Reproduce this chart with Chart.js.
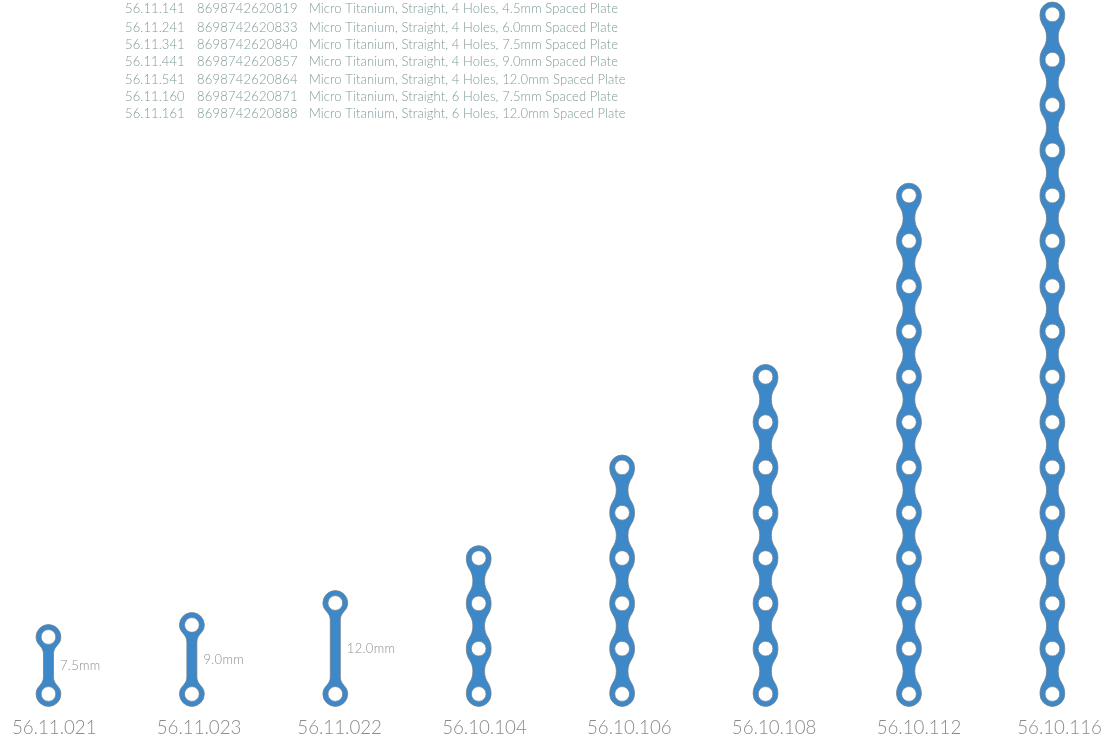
<!DOCTYPE html>
<html>
<head>
<meta charset="utf-8">
<title>Micro Titanium Straight Plates</title>
<script src="https://cdn.jsdelivr.net/npm/chart.js@4"></script>
<style>
  html, body { margin: 0; padding: 0; background: #fff; overflow: hidden; }
  canvas { display: block; }
</style>
</head>
<body>
<canvas id="plates" width="1104" height="746"></canvas>
<script>
// plate codes on the bottom axis
const plateCodes = ['56.11.021', '56.11.023', '56.11.022', '56.10.104', '56.10.106', '56.10.108', '56.10.112', '56.10.116'];

// hole centres along each plate, in mm from the bottom hole
const holes021 = [0, 7.43];
const holes023 = [0, 9.0];
const holes022 = [0, 11.86];
const holes104 = [0, 5.91, 11.81, 17.72];
const holes106 = [0, 5.91, 11.81, 17.72, 23.63, 29.54];
const holes108 = [0, 5.91, 11.81, 17.72, 23.63, 29.54, 35.44, 41.35];
const holes112 = [0, 5.91, 11.81, 17.72, 23.63, 29.54, 35.44, 41.35, 47.26, 53.16, 59.07, 64.98];
const holes116 = [0, 5.91, 11.81, 17.72, 23.63, 29.54, 35.44, 41.35, 47.26, 53.16, 59.07, 64.98, 70.88, 76.79, 82.7, 88.6];
const plateHoles = [holes021, holes023, holes022, holes104, holes106, holes108, holes112, holes116];

// spacing notes next to the first three plates
const spacingLabels = ['7.5mm', '9.0mm', '12.0mm'];

// where the code labels sit on the x axis, in plate slots
const codePositions = [0.04, 1.05, 2.03, 3.04, 4.05, 5.06, 6.07, 7.05];

// part table, top left
const partCodes = ['56.11.141', '56.11.241', '56.11.341', '56.11.441', '56.11.541', '56.11.160', '56.11.161'];
const barcodes = ['8698742620819', '8698742620833', '8698742620840', '8698742620857', '8698742620864', '8698742620871', '8698742620888'];
const partNames = [
  'Micro Titanium, Straight, 4 Holes, 4.5mm Spaced Plate',
  'Micro Titanium, Straight, 4 Holes, 6.0mm Spaced Plate',
  'Micro Titanium, Straight, 4 Holes, 7.5mm Spaced Plate',
  'Micro Titanium, Straight, 4 Holes, 9.0mm Spaced Plate',
  'Micro Titanium, Straight, 4 Holes, 12.0mm Spaced Plate',
  'Micro Titanium, Straight, 6 Holes, 7.5mm Spaced Plate',
  'Micro Titanium, Straight, 6 Holes, 12.0mm Spaced Plate'
];

const FONT = 'Lato, sans-serif';
const BLUE = '#3d88c8';
const EDGE = '#71808c';
const outerR = 12.4;

// the long necks are thinner and straighter than the links between close holes
function neckWidth(gap) {
  return gap < 50 ? 5.8 : 5;
}
function shoulder(gap) {
  return gap < 50 ? gap / 2 : 17;
}

// body of a plate, traced around the hole pixels the scales gave us
function tracePlate(ctx, pts) {
  const x = pts[0].x;
  ctx.beginPath();
  // right side, bottom to top
  ctx.arc(x, pts[0].y, outerR, Math.PI, 0, true);
  for (let i = 0; i < pts.length - 1; i++) {
    const a = pts[i].y, b = pts[i + 1].y;
    const s = shoulder(a - b), w = neckWidth(a - b);
    ctx.bezierCurveTo(x + outerR, a - s * 0.5, x + w, a - s * 0.5, x + w, a - s);
    ctx.lineTo(x + w, b + s);
    ctx.bezierCurveTo(x + w, b + s * 0.5, x + outerR, b + s * 0.5, x + outerR, b);
  }
  const top = pts[pts.length - 1].y;
  ctx.arc(x, top, outerR, 0, Math.PI, true);
  // left side, top to bottom
  for (let i = pts.length - 1; i > 0; i--) {
    const a = pts[i].y, b = pts[i - 1].y;
    const s = shoulder(b - a), w = neckWidth(b - a);
    ctx.bezierCurveTo(x - outerR, a + s * 0.5, x - w, a + s * 0.5, x - w, a + s);
    ctx.lineTo(x - w, b - s);
    ctx.bezierCurveTo(x - w, b - s * 0.5, x - outerR, b - s * 0.5, x - outerR, b);
  }
  ctx.closePath();
}

const platePlugin = {
  id: 'plateBody',
  beforeDatasetDraw(chart, args) {
    const ctx = chart.ctx;
    ctx.save();
    tracePlate(ctx, args.meta.data);
    ctx.fillStyle = BLUE;
    ctx.fill();
    ctx.strokeStyle = EDGE;
    ctx.lineWidth = 0.8;
    ctx.stroke();
    ctx.restore();
  }
};

const textPlugin = {
  id: 'plateText',
  afterDraw(chart) {
    const ctx = chart.ctx;
    ctx.save();
    ctx.textBaseline = 'middle';
    ctx.textAlign = 'left';

    // spacing notes, halfway up each two hole plate
    ctx.font = '300 13px ' + FONT;
    ctx.fillStyle = '#8f8f8f';
    ctx.letterSpacing = '0.3px';
    spacingLabels.forEach((txt, i) => {
      const pts = chart.getDatasetMeta(i).data;
      ctx.fillText(txt, pts[0].x + 11.5, (pts[0].y + pts[1].y) / 2);
    });

    // part table
    const rowY = [9, 27.5, 44.5, 61.5, 79.5, 96.5, 113.5];
    ctx.font = '300 13px ' + FONT;
    ctx.fillStyle = '#7f9a99';
    partCodes.forEach((code, i) => {
      ctx.letterSpacing = '0.1px';
      ctx.fillText(code, 125, rowY[i]);
      ctx.letterSpacing = '0.2px';
      ctx.fillText(barcodes[i], 197, rowY[i]);
      ctx.letterSpacing = '0.1px';
      ctx.fillText(partNames[i], 309, rowY[i]);
    });
    ctx.restore();
  }
};

new Chart(document.getElementById('plates'), {
  type: 'scatter',
  data: {
    datasets: plateHoles.map((holes, i) => ({
      label: plateCodes[i],
      data: holes.map(h => ({ x: i, y: h })),
      showLine: false,
      clip: false,
      pointRadius: 7.4,
      pointHoverRadius: 7.4,
      pointBackgroundColor: '#ffffff',
      pointBorderColor: EDGE,
      pointBorderWidth: 0.8
    }))
  },
  plugins: [platePlugin, textPlugin],
  options: {
    responsive: false,
    animation: false,
    devicePixelRatio: 1,
    layout: { padding: 0, autoPadding: false },
    plugins: { legend: { display: false }, tooltip: { enabled: false } },
    scales: {
      x: {
        type: 'linear',
        min: -0.338,
        max: 7.36,
        border: { display: false },
        grid: { display: false, drawTicks: false },
        afterBuildTicks(axis) { axis.ticks = codePositions.map(v => ({ value: v })); },
        afterFit(axis) {
          axis.height = 32;
          axis.paddingLeft = 0;
          axis.paddingRight = 0;
        },
        ticks: {
          autoSkip: false,
          maxRotation: 0,
          padding: 3,
          color: '#8a8a8a',
          font: { family: FONT, size: 18.7, weight: '300' },
          callback: (v, i) => plateCodes[i]
        }
      },
      y: {
        display: false,
        min: -2.61,
        max: 90.48,
        ticks: { display: false }
      }
    }
  }
});
</script>
</body>
</html>
